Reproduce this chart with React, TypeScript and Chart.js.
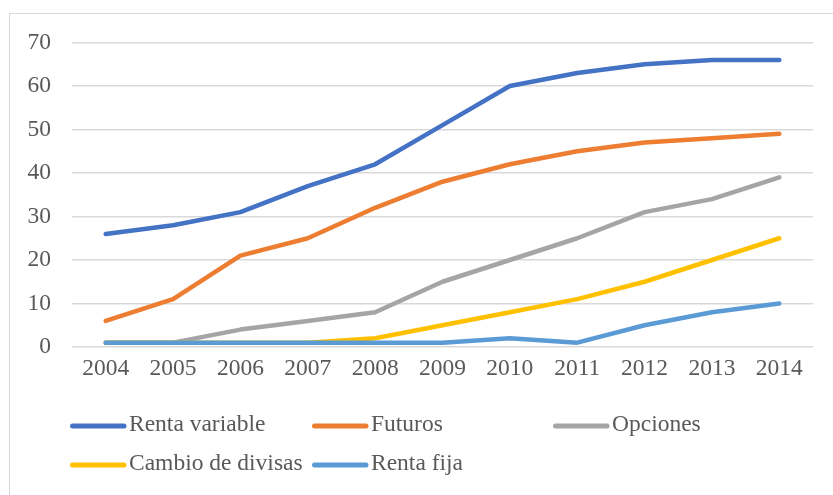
import React, { useEffect, useRef } from "react";
import { Chart, registerables } from "chart.js";

Chart.register(...registerables);

const years = ["2004", "2005", "2006", "2007", "2008", "2009", "2010", "2011", "2012", "2013", "2014"];
const rentaVariable = [26, 28, 31, 37, 42, 51, 60, 63, 65, 66, 66];
const futuros = [6, 11, 21, 25, 32, 38, 42, 45, 47, 48, 49];
const opciones = [1, 1, 4, 6, 8, 15, 20, 25, 31, 34, 39];
const cambioDivisas = [1, 1, 1, 1, 2, 5, 8, 11, 15, 20, 25];
const rentaFija = [1, 1, 1, 1, 1, 1, 2, 1, 5, 8, 10];

const seriesNames = ["Renta variable", "Futuros", "Opciones", "Cambio de divisas", "Renta fija"];
const seriesValues = [rentaVariable, futuros, opciones, cambioDivisas, rentaFija];
const seriesColors = ["#4472C4", "#ED7D31", "#A5A5A5", "#FFC000", "#5B9BD5"];

const FONT = "'Liberation Serif', 'Times New Roman', serif";
const FONT_SIZE = 23.5;
const TEXT_COLOR = "#595959";

const gridLegend = {
  id: "gridLegend",
  afterDraw(chart: any) {
    const ctx = chart.ctx;
    const colX = [70, 312, 553];
    const rowY = [426, 465];
    ctx.save();
    ctx.font = `${FONT_SIZE}px ${FONT}`;
    ctx.textBaseline = "middle";
    ctx.textAlign = "left";
    chart.data.datasets.forEach((ds: any, i: number) => {
      const x = colX[i % 3];
      const y = rowY[Math.floor(i / 3)];
      ctx.strokeStyle = ds.borderColor;
      ctx.lineWidth = 5;
      ctx.lineCap = "round";
      ctx.beginPath();
      ctx.moveTo(x + 2.5, y);
      ctx.lineTo(x + 54, y);
      ctx.stroke();
      ctx.fillStyle = TEXT_COLOR;
      ctx.fillText(ds.label, x + 59, y - 1);
    });
    ctx.restore();
  },
};

export default function App() {
  const canvasRef = useRef<HTMLCanvasElement>(null);

  useEffect(() => {
    if (!canvasRef.current) return;
    const chart = new Chart(canvasRef.current, {
      type: "line",
      data: {
        labels: years,
        datasets: seriesNames.map((name, i) => ({
          label: name,
          data: seriesValues[i],
          borderColor: seriesColors[i],
          backgroundColor: seriesColors[i],
          borderWidth: 4.5,
          borderCapStyle: "round",
          borderJoinStyle: "round",
          pointRadius: 0,
          tension: 0,
          fill: false,
          order: seriesNames.length - 1 - i,
        })),
      },
      options: {
        animation: false,
        responsive: false,
        maintainAspectRatio: false,
        layout: { padding: { top: 42.5, right: 20, bottom: 0, left: 0 } },
        plugins: {
          legend: { display: false },
          tooltip: { enabled: false },
        },
        scales: {
          x: {
            offset: true,
            grid: { display: false, drawTicks: false },
            border: { display: false },
            ticks: {
              color: TEXT_COLOR,
              font: { family: FONT, size: FONT_SIZE },
              padding: 8,
              maxRotation: 0,
              autoSkip: false,
            },
            afterFit: (s: any) => {
              s.height = 495 - 347;
            },
          },
          y: {
            min: 0,
            max: 70,
            grid: { color: "#D9D9D9", lineWidth: 1.5, drawTicks: false },
            border: { display: false },
            ticks: {
              stepSize: 10,
              color: TEXT_COLOR,
              font: { family: FONT, size: FONT_SIZE },
              padding: 21,
            },
            afterFit: (s: any) => {
              s.width = 72;
            },
          },
        },
      },
      plugins: [gridLegend],
    } as any);
    return () => chart.destroy();
  }, []);

  return (
    <div style={{ position: "fixed", left: 0, top: 0, width: 833, height: 495, overflow: "hidden", background: "#fff" }}>
      <div
        style={{
          position: "absolute",
          left: 9,
          top: 13,
          width: 900,
          height: 600,
          border: "1px solid #D9D9D9",
          boxSizing: "border-box",
        }}
      />
      <canvas ref={canvasRef} width={833} height={495} style={{ position: "absolute", left: 0, top: 0, width: 833, height: 495 }} />
    </div>
  );
}
